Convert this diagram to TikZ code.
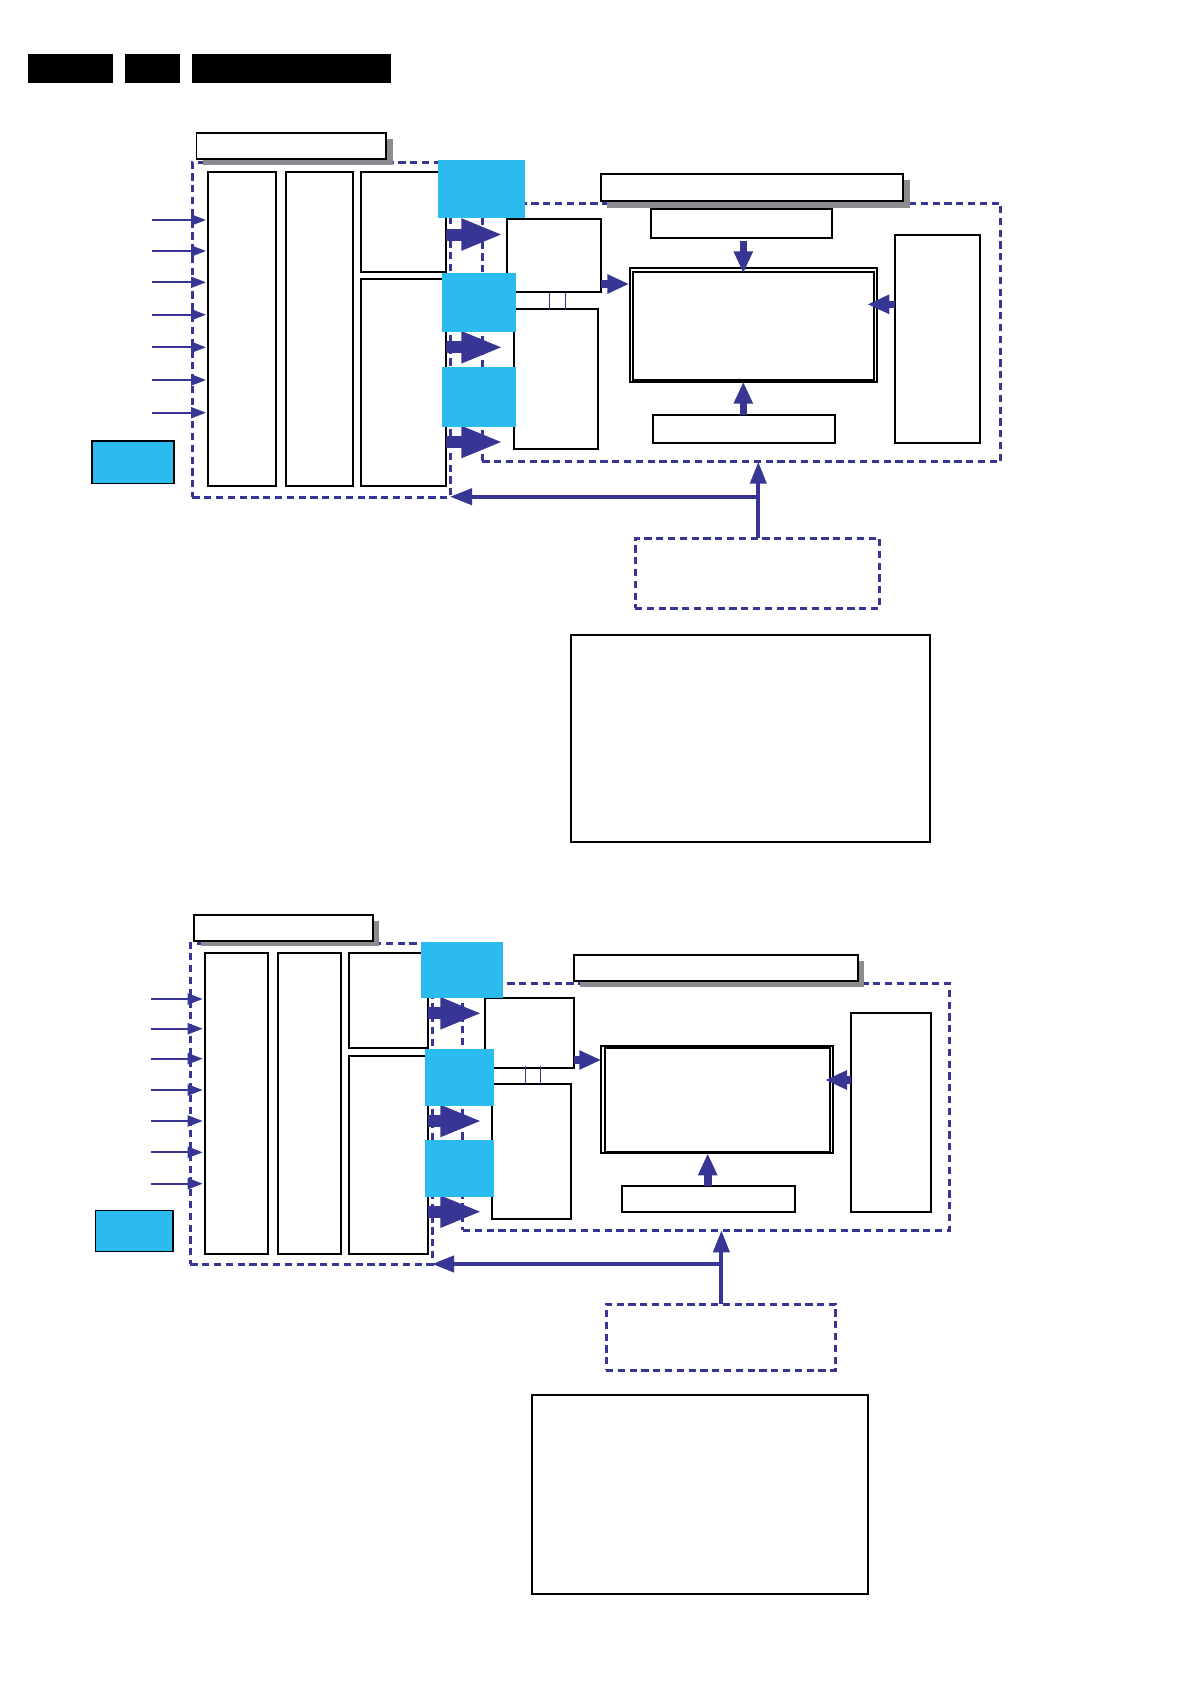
\documentclass[tikz,border=0pt]{standalone}
\usetikzlibrary{arrows.meta,fit}
\definecolor{navy}{RGB}{56,54,148}
\definecolor{skyc}{RGB}{43,187,238}
\definecolor{shade}{RGB}{138,140,143}
\begin{document}
\begin{tikzpicture}[x=0.5pt,y=-0.5pt,
  box/.style={draw=black, line width=0.9pt, fill=white, inner sep=0pt, outer sep=0pt},
  hdr/.style={fill=black, inner sep=0pt, outer sep=0pt},
  region/.style={draw=navy, line width=1.5pt, dash pattern=on 3.6pt off 2.3pt, inner sep=0pt, outer sep=0pt},
  shadowbox/.style={fill=shade, inner sep=0pt, outer sep=0pt},
  cyanbox/.style={fill=skyc, inner sep=0pt, outer sep=0pt},
  cyanframe/.style={fill=skyc, draw=black, line width=0.8pt, inner sep=0pt, outer sep=0pt},
  fat/.style={navy, line width=6pt, -{Triangle[length=21pt,width=14.5pt]}},
  mid/.style={navy, line width=3.8pt, -{Triangle[length=11pt,width=9pt]}},
  inarrow/.style={navy, line width=1pt, -{Triangle[length=7.5pt,width=5.5pt]}},
  fb/.style={navy, line width=2pt, -{Triangle[length=11pt,width=8pt]}},
  link/.style={navy, line width=0.6pt}]
\useasboundingbox (0,0) rectangle (1190,1682);

% header bars
\node[hdr, fit={(27.9,53.7) (112.7,82.6)}] (h1) {};
\node[hdr, fit={(124.5,53.7) (180.3,82.6)}] (h2) {};
\node[hdr, fit={(192.1,53.7) (390.6,82.6)}] (h3) {};

% ================= DIAGRAM 1 =================
\node[region, fit={(192.3,162.3) (450,497.3)}] (left1) {};
\node[region, fit={(482.3,203.3) (1000.7,461.7)}] (right1) {};
\node[region, fit={(635,538.3) (879.7,608.3)}] (fbb1) {};

\node[box, fit={(208.3,172.3) (275.7,486.3)}] (c11) {};
\node[box, fit={(285.7,172.3) (352.7,486.3)}] (c12) {};
\node[box, fit={(361.3,172.3) (446,272)}] (c13a) {};
\node[box, fit={(361.3,279.3) (446,486.3)}] (c13b) {};
\node[box, fit={(506.7,218.7) (601,292.3)}] (a1) {};
\node[box, fit={(513.7,309) (598.3,449.3)}] (b1) {};
\node[box, fit={(651.3,209.3) (832.3,238.3)}] (top1) {};
\node[box, fit={(630.3,268.3) (876.7,381.7)}] (main1) {};
\node[box, fit={(633.3,272.3) (874,380)}] (main1in) {};
\node[box, fit={(652.7,415.3) (835.3,442.7)}] (bot1) {};
\node[box, fit={(895.3,234.7) (980.3,442.7)}] (rt1) {};
\node[box, fit={(571.3,635) (929.7,842)}] (big1) {};

% input arrows
\foreach \yy [count=\i] in {220,251,282.3,314.7,347.3,380,412.7}{
  \coordinate (in1s\i) at (151.7,\yy);
  \draw[inarrow] (in1s\i) -- (in1s\i -| 206,0);
}

% links between A and B
\coordinate (v11) at (549.3,300);
\coordinate (v12) at (565.3,300);
\draw[link] (a1.south -| v11) -- (b1.north -| v11);
\draw[link] (a1.south -| v12) -- (b1.north -| v12);

% fat arrows
\coordinate (f11) at (503.3,234.5);
\coordinate (f12) at (503.3,347.3);
\coordinate (f13) at (503.3,442);
\draw[fat] (c13a.east |- f11) -- (f11);
\draw[fat] (c13b.east |- f12) -- (f12);
\draw[fat] (c13b.east |- f13) -- (f13);

% medium arrows
\coordinate (m11) at (629.3,284);
\draw[mid] (a1.east |- m11) -- (m11);
\coordinate (d11) at (743.3,241);
\coordinate (d12) at (743.3,273.3);
\draw[mid] (d11) -- (d12);
\coordinate (u11) at (743.3,381.7);
\draw[mid] (bot1.north -| u11) -- (u11);
\coordinate (r11) at (867.3,304.3);
\draw[mid] (rt1.west |- r11) -- (r11);

% feedback
\coordinate (j1) at (758.3,496.7);
\draw[fb] (fbb1.north -| j1) -- (j1 |- right1.south);
\draw[fb] (j1) -- (j1 -| left1.east);

% titles
\node[shadowbox, fit={(202.8,139.4) (392.7,165.2)}] (s11) {};
\node[box, fit={(196.4,133) (386.3,158.8)}] (t11) {};
\node[shadowbox, fit={(607.4,180.4) (910,207.7)}] (s12) {};
\node[box, fit={(600.7,173.7) (903.3,201)}] (t12) {};

% cyan boxes
\node[cyanbox, fit={(438.3,160) (525,218.3)}] (k11) {};
\node[cyanbox, fit={(442,273.3) (516,331.7)}] (k12) {};
\node[cyanbox, fit={(442,367) (516,426.7)}] (k13) {};
\node[cyanframe, fit={(91.7,440.7) (174,483.3)}] (k14) {};

% ================= DIAGRAM 2 =================
\node[region, fit={(190.3,943.3) (432,1264.3)}] (left2) {};
\node[region, fit={(462.9,983.3) (949.3,1230.3)}] (right2) {};
\node[region, fit={(606,1304) (835.4,1370.3)}] (fbb2) {};

\node[box, fit={(205.3,953.3) (268.3,1254.3)}] (c21) {};
\node[box, fit={(277.7,953.3) (340.7,1254.3)}] (c22) {};
\node[box, fit={(348.7,953.3) (428,1048.3)}] (c23a) {};
\node[box, fit={(348.7,1055.7) (428,1254.3)}] (c23b) {};
\node[box, fit={(484.7,997.7) (574.3,1068.3)}] (a2) {};
\node[box, fit={(491.7,1084.3) (571.3,1219)}] (b2) {};
\node[box, fit={(601.3,1045.7) (833.3,1153.3)}] (main2) {};
\node[box, fit={(605,1048.3) (830,1152.3)}] (main2in) {};
\node[box, fit={(622.3,1186.3) (794.7,1212.3)}] (bot2) {};
\node[box, fit={(850.7,1013.3) (930.7,1212.3)}] (rt2) {};
\node[box, fit={(531.8,1395) (868.2,1593.7)}] (big2) {};

\foreach \yy [count=\i] in {999,1028.7,1058.7,1090,1121,1152.3,1183.7}{
  \coordinate (in2s\i) at (151,\yy);
  \draw[inarrow] (in2s\i) -- (in2s\i -| 202.7,0);
}

\coordinate (v21) at (525.7,1076);
\coordinate (v22) at (540.7,1076);
\draw[link] (v21 |- 0,1065.7) -- (v21 |- b2.north);
\draw[link] (v22 |- 0,1065.7) -- (v22 |- b2.north);

\coordinate (f21) at (482.3,1013.3);
\coordinate (f22) at (482.3,1121);
\coordinate (f23) at (482.3,1211.7);
\draw[fat] (c23a.east |- f21) -- (f21);
\draw[fat] (c23b.east |- f22) -- (f22);
\draw[fat] (c23b.east |- f23) -- (f23);

\coordinate (m21) at (601.3,1060);
\draw[mid] (a2.east |- m21) -- (m21);
\coordinate (u21) at (707.7,1153.3);
\draw[mid] (bot2.north -| u21) -- (u21);
\coordinate (r21) at (825,1080);
\draw[mid] (rt2.west |- r21) -- (r21);

\coordinate (j2) at (721.4,1264);
\draw[fb] (fbb2.north -| j2) -- (j2 |- right2.south);
\draw[fb] (j2) -- (j2 -| left2.east);

\node[shadowbox, fit={(200.6,921.3) (379,946.3)}] (s21) {};
\node[box, fit={(194.3,915.3) (372.7,941)}] (t21) {};
\node[shadowbox, fit={(580,960.7) (864,986.7)}] (s22) {};
\node[box, fit={(574.3,954.7) (858.3,980.7)}] (t22) {};

\node[cyanbox, fit={(421,942) (502.7,997.7)}] (k21) {};
\node[cyanbox, fit={(425,1049) (493.7,1105.7)}] (k22) {};
\node[cyanbox, fit={(425,1140) (493.7,1196.7)}] (k23) {};
\node[cyanframe, fit={(95.3,1210.3) (172.7,1251.3)}] (k24) {};
\end{tikzpicture}
\end{document}
